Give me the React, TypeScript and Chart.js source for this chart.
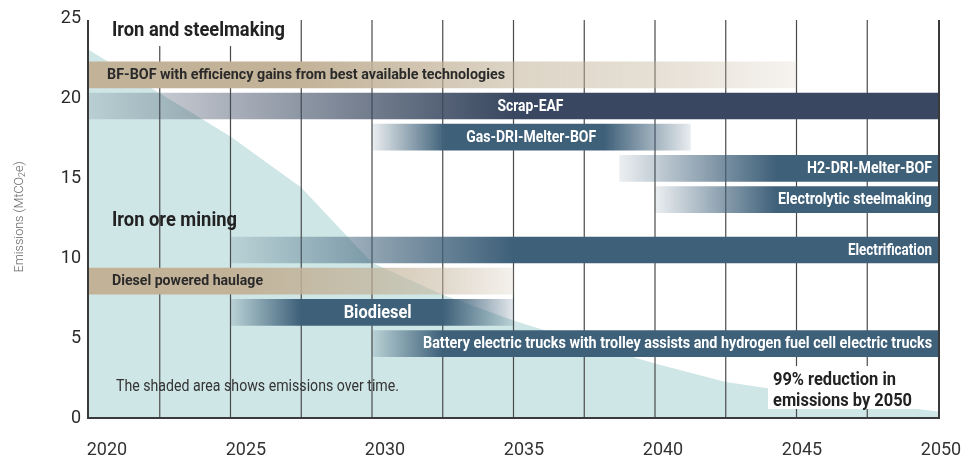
import { useEffect, useRef } from 'react';
import { Chart, registerables } from 'chart.js';

Chart.register(...registerables);

// ---- Data ----
const emissionYears = [2020, 2022.5, 2025, 2027.5, 2030, 2032.5, 2035, 2037.5, 2040, 2042.5, 2045, 2047.5, 2050];
const emissionValues = [23.0, 20.3, 17.6, 14.4, 9.7, 7.7, 6.1, 4.7, 3.4, 2.25, 1.6, 0.94, 0.4];

const techLabels = [
  'BF-BOF with efficiency gains from best available technologies',
  'Scrap-EAF',
  'Gas-DRI-Melter-BOF',
  'H2-DRI-Melter-BOF',
  'Electrolytic steelmaking',
  'Electrification',
  'Diesel powered haulage',
  'Biodiesel',
  'Battery electric trucks with trolley assists and hydrogen fuel cell electric trucks',
];
const techStart = [2020, 2020, 2030, 2038.75, 2040, 2025, 2020, 2025, 2030];
const techEnd = [2045, 2050, 2041.25, 2050, 2050, 2050, 2035, 2035, 2050];
const techLevel = [21.45, 19.5, 17.55, 15.6, 13.65, 10.5, 8.55, 6.6, 4.65];

const xTickYears = [2020, 2025, 2030, 2035, 2040, 2045, 2050];
const gridYears = [2020, 2022.5, 2025, 2027.5, 2030, 2032.5, 2035, 2037.5, 2040, 2042.5, 2045, 2047.5, 2050];

const sectionTitles = ['Iron and steelmaking', 'Iron ore mining'];
const noteText = 'The shaded area shows emissions over time.';
const reductionText = ['99% reduction in', 'emissions by 2050'];

// ---- Styles ----
const TAN = '194,178,152';
const NAVY = '57,72,96';
const STEEL = '62,96,121';

type Style = {
  rgb: string;
  stops: number[][];
  color: string;
  align: 'left' | 'right' | 'center';
  width: number;
  size: number;
  centerYear?: number;
};

const barStyles: Style[] = [
  { rgb: TAN, stops: [[2020, 1], [2027.5, 1], [2035, 0.56], [2040, 0.41], [2045, 0.15]], color: '#2a2a2a', align: 'left', width: 398, size: 15 },
  { rgb: NAVY, stops: [[2020, 0.15], [2035, 1], [2050, 1]], color: '#ffffff', align: 'center', width: 66, size: 16, centerYear: 2035.6 },
  { rgb: STEEL, stops: [[2030, 0.1], [2032.6, 1], [2038.2, 1], [2041.25, 0.12]], color: '#ffffff', align: 'center', width: 130, size: 16 },
  { rgb: STEEL, stops: [[2038.75, 0.1], [2044.3, 1], [2050, 1]], color: '#ffffff', align: 'right', width: 125, size: 16 },
  { rgb: STEEL, stops: [[2040, 0.1], [2044.3, 1], [2050, 1]], color: '#ffffff', align: 'right', width: 154, size: 16 },
  { rgb: STEEL, stops: [[2025, 0.15], [2035, 1], [2050, 1]], color: '#ffffff', align: 'right', width: 84, size: 16 },
  { rgb: TAN, stops: [[2020, 1], [2025, 1], [2027.5, 0.85], [2030, 0.7], [2032.5, 0.5], [2035, 0.18]], color: '#2a2a2a', align: 'left', width: 151, size: 15 },
  { rgb: STEEL, stops: [[2025, 0.15], [2027.5, 1], [2032.5, 1], [2035, 0.15]], color: '#ffffff', align: 'center', width: 68, size: 19, centerYear: 2030.2 },
  { rgb: STEEL, stops: [[2030, 0.15], [2032.5, 1], [2050, 1]], color: '#ffffff', align: 'right', width: 509, size: 16 },
];

function drawText(
  ctx: CanvasRenderingContext2D,
  s: string,
  x: number,
  y: number,
  font: string,
  color: string,
  width: number,
  align: CanvasTextAlign
) {
  ctx.save();
  ctx.font = font;
  const w = ctx.measureText(s).width;
  const sx = w > 0 ? width / w : 1;
  ctx.translate(x, y);
  ctx.scale(sx, 1);
  ctx.textAlign = align;
  ctx.textBaseline = 'middle';
  ctx.fillStyle = color;
  ctx.fillText(s, 0, 0);
  ctx.restore();
}

const decorPlugin = {
  id: 'decor',
  afterDatasetDraw(chart: any, args: any) {
    if (args.index !== 0) return;
    const ctx: CanvasRenderingContext2D = chart.ctx;
    const xs = chart.scales.x;
    const area = chart.chartArea;
    ctx.save();
    ctx.strokeStyle = '#4a4a4a';
    ctx.lineWidth = 1.2;
    gridYears.forEach((yr) => {
      if (yr === 2020 || yr === 2050) return;
      const px = xs.getPixelForValue(yr);
      ctx.beginPath();
      ctx.moveTo(px, area.top + 2);
      ctx.lineTo(px, area.bottom);
      ctx.stroke();
    });
    ctx.restore();
  },
  afterDatasetsDraw(chart: any) {
    const ctx: CanvasRenderingContext2D = chart.ctx;
    const xs = chart.scales.x;
    const area = chart.chartArea;

    // edge lines and bottom axis
    ctx.save();
    ctx.strokeStyle = '#3a3a3a';
    ctx.lineWidth = 2;
    [2020, 2050].forEach((yr) => {
      const px = xs.getPixelForValue(yr) + (yr === 2020 ? -1 : 1);
      ctx.beginPath();
      ctx.moveTo(px, area.top + 2);
      ctx.lineTo(px, area.bottom);
      ctx.stroke();
    });
    ctx.beginPath();
    ctx.moveTo(xs.getPixelForValue(2020) - 2, area.bottom);
    ctx.lineTo(xs.getPixelForValue(2050) + 2, area.bottom);
    ctx.stroke();
    ctx.restore();

    // bar labels
    techLabels.forEach((label, i) => {
      const st = barStyles[i];
      const el = chart.getDatasetMeta(i + 1).data[0];
      if (!el) return;
      const left = Math.min(el.x, el.base);
      const right = Math.max(el.x, el.base);
      let tx = left;
      if (st.align === 'left') tx = left + (i === 0 ? 18 : 23);
      else if (st.align === 'right') tx = right - 6;
      else tx = st.centerYear !== undefined ? xs.getPixelForValue(st.centerYear) : (left + right) / 2;
      drawText(ctx, label, tx, el.y + 0.5, `bold ${st.size}px Roboto`, st.color, st.width, st.align);
    });

    // section titles
    ctx.save();
    ctx.fillStyle = '#ffffff';
    ctx.fillRect(100, 19, 195, 27);
    ctx.restore();
    drawText(ctx, sectionTitles[0], 112, 30.5, 'bold 21px Roboto', '#222222', 173, 'left');
    drawText(ctx, sectionTitles[1], 112, 221, 'bold 21px Roboto', '#222222', 125, 'left');

    // note
    drawText(ctx, noteText, 116, 386.5, '17px Roboto', '#333333', 283, 'left');

    // reduction callout
    ctx.save();
    ctx.fillStyle = '#ffffff';
    ctx.fillRect(768, 366, 150, 43);
    ctx.restore();
    drawText(ctx, reductionText[0], 773, 380, 'bold 18px Roboto', '#222222', 123, 'left');
    drawText(ctx, reductionText[1], 773, 401.5, 'bold 18px Roboto', '#222222', 139, 'left');
  },
  afterDraw(chart: any) {
    const ctx: CanvasRenderingContext2D = chart.ctx;
    ctx.save();
    ctx.translate(20, 217);
    ctx.rotate(-Math.PI / 2);
    ctx.fillStyle = '#666666';
    ctx.textBaseline = 'middle';
    ctx.textAlign = 'left';
    const a = 'Emissions (MtCO';
    const s = '2';
    const b = 'e)';
    ctx.font = '300 13px Roboto';
    const wa = ctx.measureText(a).width;
    const wb = ctx.measureText(b).width;
    ctx.font = '300 9px Roboto';
    const ws = ctx.measureText(s).width;
    const total = wa + ws + wb;
    ctx.scale(111 / total, 1);
    const x0 = -total / 2;
    ctx.font = '300 13px Roboto';
    ctx.fillText(a, x0, 0);
    ctx.font = '300 9px Roboto';
    ctx.fillText(s, x0 + wa, 3);
    ctx.font = '300 13px Roboto';
    ctx.fillText(b, x0 + wa + ws, 0);
    ctx.restore();
  },
};

export default function App() {
  const ref = useRef<HTMLCanvasElement | null>(null);

  useEffect(() => {
    document.body.style.margin = '0';
    const canvas = ref.current;
    if (!canvas) return;

    const areaDataset: any = {
      type: 'line',
      data: emissionYears.map((yr, i) => ({ x: yr, y: emissionValues[i] })),
      fill: 'origin',
      backgroundColor: '#cfe6e6',
      borderWidth: 0,
      pointRadius: 0,
      tension: 0,
      order: 10,
      xAxisID: 'x',
      yAxisID: 'y',
    };

    const barDatasets: any[] = techLabels.map((label, i) => {
      const st = barStyles[i];
      return {
        type: 'bar',
        label,
        indexAxis: 'y',
        data: [{ x: [techStart[i], techEnd[i]], y: techLevel[i] }],
        barThickness: 26,
        grouped: false,
        borderWidth: 0,
        borderSkipped: false,
        order: 1,
        xAxisID: 'x',
        yAxisID: 'y',
        backgroundColor: (c: any) => {
          const chart = c.chart;
          const xs = chart.scales && chart.scales.x;
          if (!xs || !chart.chartArea) return `rgba(${st.rgb},1)`;
          const x0 = xs.getPixelForValue(techStart[i]);
          const x1 = xs.getPixelForValue(techEnd[i]);
          const g = chart.ctx.createLinearGradient(x0, 0, x1, 0);
          const span = techEnd[i] - techStart[i];
          st.stops.forEach(([yr, al]) => {
            const t = Math.min(1, Math.max(0, (yr - techStart[i]) / span));
            g.addColorStop(t, `rgba(${st.rgb},${al})`);
          });
          return g;
        },
      };
    });

    const chart = new Chart(canvas, {
      type: 'bar',
      data: { datasets: [areaDataset, ...barDatasets] },
      options: {
        responsive: false,
        animation: false,
        devicePixelRatio: 1,
        layout: { padding: { top: 18, right: 24, left: 0, bottom: 0 } },
        plugins: {
          legend: { display: false },
          tooltip: { enabled: false },
        },
        scales: {
          x: { type: 'linear', display: false, min: 2020, max: 2050, offset: false },
          x2: {
            type: 'linear',
            position: 'bottom',
            min: 2019.353,
            max: 2049.892,
            offset: false,
            grid: { display: false, drawTicks: false, offset: false },
            border: { display: false },
            afterBuildTicks: (scale: any) => {
              scale.ticks = xTickYears.map((v) => ({ value: v }));
            },
            afterFit: (scale: any) => {
              scale.height = 40;
              scale.paddingLeft = 0;
              scale.paddingRight = 0;
            },
            ticks: {
              autoSkip: false,
              maxRotation: 0,
              padding: 22,
              color: '#333333',
              font: { family: 'Roboto', size: 18, weight: 400 },
              callback: (v: any) => String(v),
            },
          },
          y: {
            type: 'linear',
            min: 0,
            max: 25,
            offset: false,
            grid: { display: false, drawTicks: false, offset: false },
            border: { display: false },
            afterFit: (scale: any) => {
              scale.width = 89;
              scale.paddingTop = 0;
              scale.paddingBottom = 0;
            },
            ticks: {
              stepSize: 5,
              padding: 8,
              color: '#2a2a2a',
              font: { family: 'Roboto', size: 18, weight: 400 },
              callback: (v: any) => String(v),
            },
          },
        },
      } as any,
      plugins: [decorPlugin],
    });

    return () => chart.destroy();
  }, []);

  return (
    <div style={{ width: 962, height: 458, background: '#ffffff' }}>
      <canvas ref={ref} width={962} height={458} style={{ display: 'block' }} />
    </div>
  );
}
